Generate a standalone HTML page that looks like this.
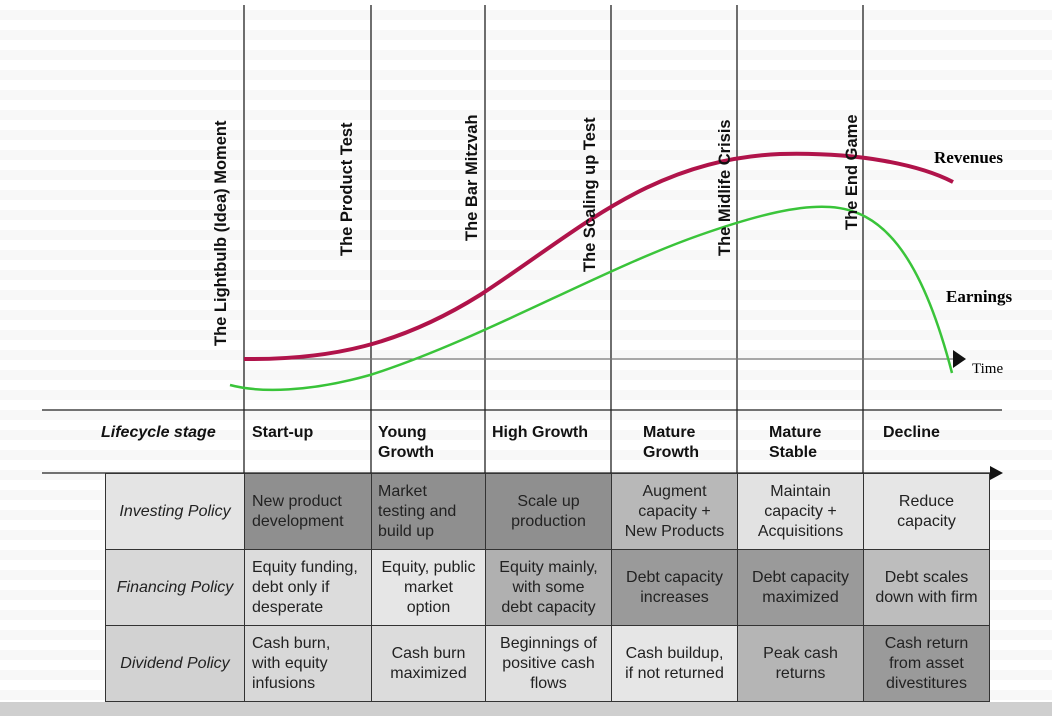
<!DOCTYPE html>
<html><head><style>
body{margin:0;width:1052px;height:716px;overflow:hidden;background:#fff;font-family:"Liberation Sans",sans-serif;position:relative}
.bg{position:absolute;left:0;top:0;width:1052px;height:716px;background:repeating-linear-gradient(#fff 0 10px,#f8f8f8 10px 20px)}
.c{position:absolute;display:flex;align-items:center;justify-content:center;text-align:center;font-size:16px;color:#222;line-height:20px;box-sizing:border-box;border:1px solid #333}
.h{position:absolute;font-weight:bold;font-size:16px;line-height:20px;color:#111}
.r{position:absolute;font-weight:bold;font-size:16.5px;color:#111;transform-origin:0 0;transform:rotate(-90deg);white-space:nowrap}
</style></head><body>
<div class="bg"></div>
<div style="position:absolute;left:0;top:702px;width:1052px;height:14px;background:#cfcfcf"></div>
<svg style="position:absolute;left:0;top:0" width="1052" height="716">
<g stroke="#222" stroke-width="1.3">
<line x1="244" y1="5" x2="244" y2="473"/><line x1="371" y1="5" x2="371" y2="473"/><line x1="485" y1="5" x2="485" y2="473"/>
<line x1="611" y1="5" x2="611" y2="473"/><line x1="737" y1="5" x2="737" y2="473"/><line x1="863" y1="5" x2="863" y2="473"/>
<line x1="42" y1="410" x2="1002" y2="410"/><line x1="42" y1="473" x2="992" y2="473"/>
<line x1="244" y1="359" x2="955" y2="359" stroke="#777"/>
</g>
<polygon points="990,466 1003,473 990,480" fill="#111"/>
<polygon points="953,350 966,359 953,368" fill="#111"/>
<path d="M244,359 C330,360 400,345 480,295 C580,230 650,160 780,154 C860,152 920,165 953,182" fill="none" stroke="#b0134a" stroke-width="4"/>
<path d="M230,385 C260,393 310,392 370,375 C480,340 600,270 700,235 C760,214 800,205 830,207 C880,210 920,250 952,373" fill="none" stroke="#3ac43a" stroke-width="2.5"/>
</svg>
<div class="r" style="left:212px;top:346px">The Lightbulb (Idea) Moment</div>
<div class="r" style="left:338px;top:256px">The Product Test</div>
<div class="r" style="left:463px;top:241px">The Bar Mitzvah</div>
<div class="r" style="left:581px;top:272px">The Scaling up Test</div>
<div class="r" style="left:716px;top:256px">The Midlife Crisis</div>
<div class="r" style="left:843px;top:230px">The End Game</div>
<div style="position:absolute;left:934px;top:148px;font-family:'Liberation Serif',serif;font-weight:bold;font-size:17px">Revenues</div>
<div style="position:absolute;left:946px;top:287px;font-family:'Liberation Serif',serif;font-weight:bold;font-size:17px">Earnings</div>
<div style="position:absolute;left:972px;top:361px;font-family:'Liberation Serif',serif;font-size:15px">Time</div>
<div class="h" style="left:101px;top:423px;font-style:italic">Lifecycle stage</div>
<div class="h" style="left:252px;top:423px">Start-up</div>
<div class="h" style="left:378px;top:423px">Young<br>Growth</div>
<div class="h" style="left:492px;top:423px">High Growth</div>
<div class="h" style="left:643px;top:423px">Mature<br>Growth</div>
<div class="h" style="left:769px;top:423px">Mature<br>Stable</div>
<div class="h" style="left:883px;top:423px">Decline</div>

<div class="c" style="left:105px;top:473px;width:140px;height:77px;background:#e4e4e4;font-style:italic">Investing Policy</div>
<div class="c" style="left:244px;top:473px;width:128px;height:77px;background:#8f8f8f;justify-content:flex-start;text-align:left;padding-left:7px">New product<br>development</div>
<div class="c" style="left:371px;top:473px;width:115px;height:77px;background:#8f8f8f;justify-content:flex-start;text-align:left;padding-left:6px">Market<br>testing and<br>build up</div>
<div class="c" style="left:485px;top:473px;width:127px;height:77px;background:#8f8f8f">Scale up<br>production</div>
<div class="c" style="left:611px;top:473px;width:127px;height:77px;background:#b8b8b8">Augment<br>capacity +<br>New Products</div>
<div class="c" style="left:737px;top:473px;width:127px;height:77px;background:#e2e2e2">Maintain<br>capacity +<br>Acquisitions</div>
<div class="c" style="left:863px;top:473px;width:127px;height:77px;background:#e6e6e6">Reduce<br>capacity</div>

<div class="c" style="left:105px;top:549px;width:140px;height:77px;background:#d8d8d8;font-style:italic">Financing Policy</div>
<div class="c" style="left:244px;top:549px;width:128px;height:77px;background:#dcdcdc;justify-content:flex-start;text-align:left;padding-left:7px">Equity funding,<br>debt only if<br>desperate</div>
<div class="c" style="left:371px;top:549px;width:115px;height:77px;background:#e6e6e6">Equity, public<br>market<br>option</div>
<div class="c" style="left:485px;top:549px;width:127px;height:77px;background:#b0b0b0">Equity mainly,<br>with some<br>debt capacity</div>
<div class="c" style="left:611px;top:549px;width:127px;height:77px;background:#9a9a9a">Debt capacity<br>increases</div>
<div class="c" style="left:737px;top:549px;width:127px;height:77px;background:#9a9a9a">Debt capacity<br>maximized</div>
<div class="c" style="left:863px;top:549px;width:127px;height:77px;background:#bdbdbd">Debt scales<br>down with firm</div>

<div class="c" style="left:105px;top:625px;width:140px;height:77px;background:#d2d2d2;font-style:italic">Dividend Policy</div>
<div class="c" style="left:244px;top:625px;width:128px;height:77px;background:#d8d8d8;justify-content:flex-start;text-align:left;padding-left:7px">Cash burn,<br>with equity<br>infusions</div>
<div class="c" style="left:371px;top:625px;width:115px;height:77px;background:#dcdcdc">Cash burn<br>maximized</div>
<div class="c" style="left:485px;top:625px;width:127px;height:77px;background:#e0e0e0">Beginnings of<br>positive cash<br>flows</div>
<div class="c" style="left:611px;top:625px;width:127px;height:77px;background:#e6e6e6">Cash buildup,<br>if not returned</div>
<div class="c" style="left:737px;top:625px;width:127px;height:77px;background:#b5b5b5">Peak cash<br>returns</div>
<div class="c" style="left:863px;top:625px;width:127px;height:77px;background:#9a9a9a">Cash return<br>from asset<br>divestitures</div>
</body></html>
